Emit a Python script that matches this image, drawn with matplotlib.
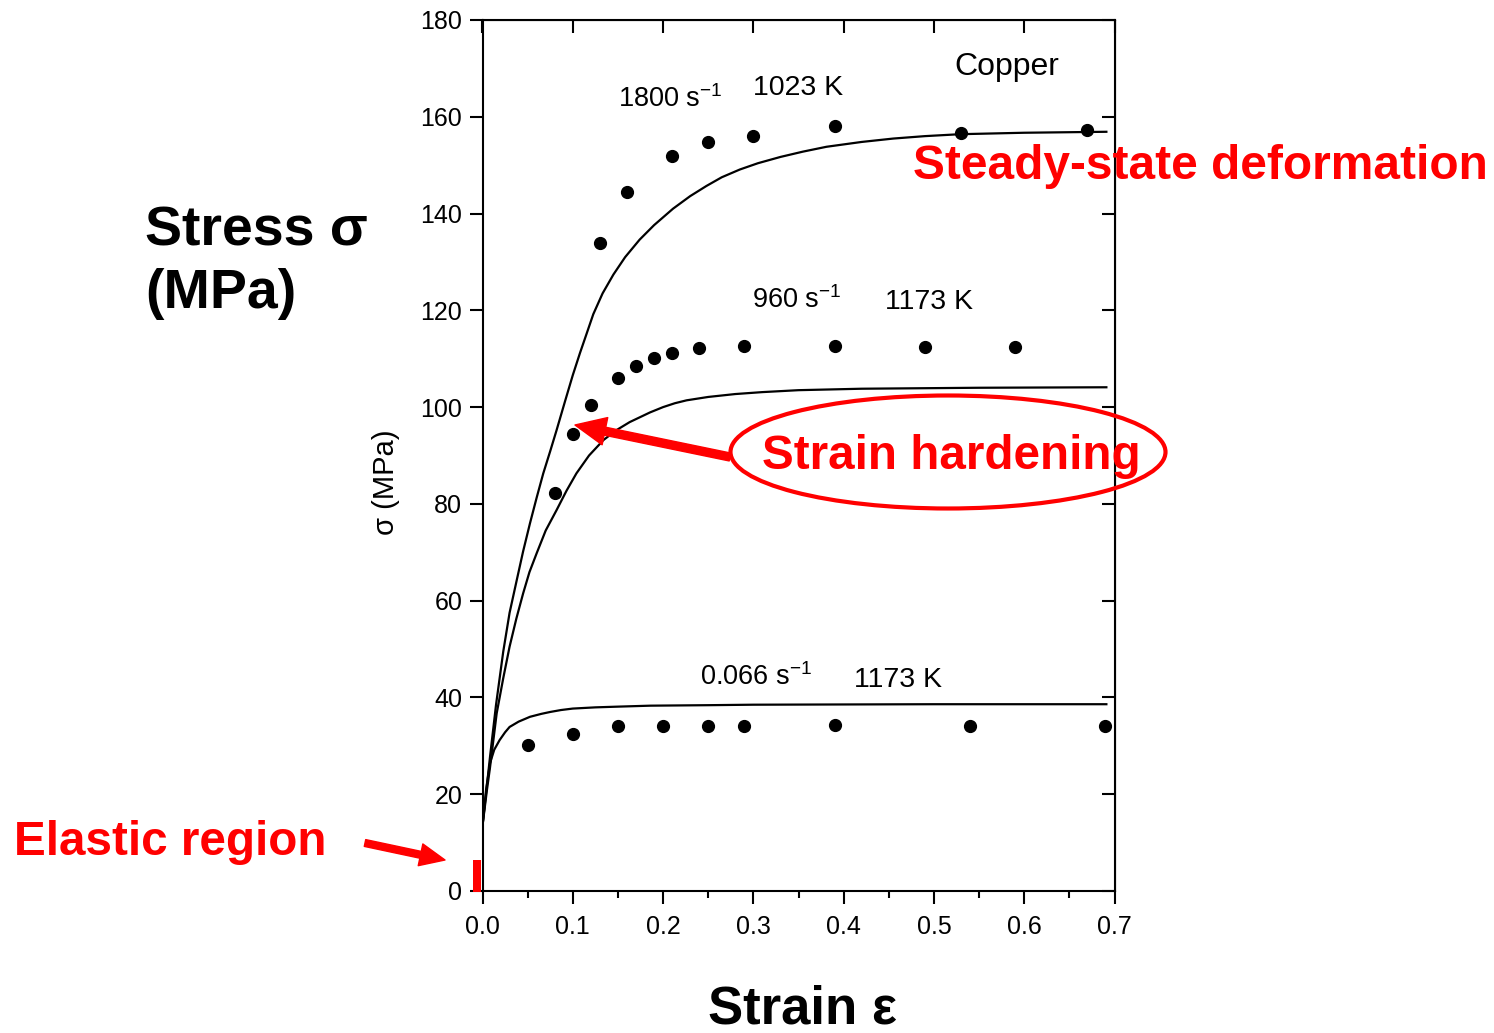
import numpy as np
import matplotlib
matplotlib.use('Agg')
import matplotlib.pyplot as plt
from matplotlib.patches import Ellipse, Rectangle, FancyArrowPatch, ArrowStyle

plt.rcParams['font.family'] = ['Liberation Sans', 'DejaVu Sans']
plt.rcParams['mathtext.fontset'] = 'custom'
plt.rcParams['mathtext.rm'] = 'Liberation Sans'
plt.rcParams['mathtext.it'] = 'Liberation Sans'

# model curves
fit1800_x = [0.0, 0.005, 0.0083, 0.015, 0.023, 0.030, 0.038, 0.045, 0.0526, 0.060,
             0.0673, 0.075, 0.082, 0.0914, 0.100, 0.108, 0.115, 0.1227, 0.133, 0.145,
             0.158, 0.174, 0.190, 0.211, 0.230, 0.248, 0.265, 0.285, 0.305, 0.330,
             0.355, 0.381, 0.420, 0.455, 0.490, 0.529, 0.600, 0.691]
fit1800_y = [13.5, 22.0, 27.7, 38.5, 49.5, 57.5, 64.3, 70.2, 76.0, 81.3,
             86.3, 90.9, 95.2, 101.2, 106.6, 111.2, 115.0, 119.2, 123.5, 127.4,
             131.0, 134.6, 137.6, 141.0, 143.6, 145.7, 147.5, 149.1, 150.4, 151.7,
             152.8, 153.8, 154.8, 155.5, 156.0, 156.4, 156.7, 156.9]

fit960_x = [0.0, 0.005, 0.0083, 0.0157, 0.023, 0.030, 0.0375, 0.045, 0.052, 0.060,
            0.070, 0.082, 0.093, 0.104, 0.118, 0.134, 0.148, 0.163, 0.1855, 0.200,
            0.213, 0.226, 0.250, 0.280, 0.310, 0.350, 0.420, 0.550, 0.691]
fit960_y = [13.5, 21.0, 25.5, 36.7, 44.0, 50.5, 56.3, 61.5, 65.9, 69.8,
            74.5, 78.7, 82.7, 86.3, 90.0, 93.2, 95.2, 96.9, 98.9, 100.0,
            100.8, 101.4, 102.1, 102.7, 103.1, 103.5, 103.8, 104.0, 104.1]

fit066_x = [0.0, 0.004, 0.0083, 0.013, 0.019, 0.025, 0.030, 0.040, 0.0526, 0.065,
            0.075, 0.087, 0.100, 0.125, 0.150, 0.186, 0.250, 0.300, 0.500, 0.691]
fit066_y = [13.5, 21.0, 26.4, 29.2, 31.2, 32.8, 33.9, 35.0, 36.0, 36.6,
            37.0, 37.4, 37.7, 37.95, 38.1, 38.3, 38.4, 38.5, 38.6, 38.6]

# measured points
s1800_x = [0.13, 0.16, 0.21, 0.25, 0.30, 0.39, 0.53, 0.67]
s1800_y = [134.0, 144.4, 151.8, 154.7, 156.1, 158.1, 156.7, 157.2]
s960_x = [0.08, 0.10, 0.12, 0.15, 0.17, 0.19, 0.21, 0.24, 0.29, 0.39, 0.49, 0.59]
s960_y = [82.2, 94.5, 100.5, 106.0, 108.4, 110.2, 111.2, 112.2, 112.7, 112.7, 112.4, 112.4]
s066_x = [0.05, 0.10, 0.15, 0.20, 0.25, 0.29, 0.39, 0.54, 0.69]
s066_y = [30.1, 32.5, 34.1, 34.1, 34.1, 34.2, 34.3, 34.0, 34.1]

xticks = [0.0, 0.1, 0.2, 0.3, 0.4, 0.5, 0.6, 0.7]
yticks = [0, 20, 40, 60, 80, 100, 120, 140, 160, 180]

W, H = 1494, 1033
fig = plt.figure(figsize=(W / 100, H / 100), dpi=100)

def fx(px):
    return px / W

def fy(py):
    return 1 - py / H

ax = fig.add_axes([fx(482.5), fy(891), 632 / W, 871 / H])

for xs, ys in [(fit1800_x, fit1800_y), (fit960_x, fit960_y), (fit066_x, fit066_y)]:
    ax.plot(xs, ys, color='black', lw=1.6, solid_joinstyle='round')
for xs, ys in [(s1800_x, s1800_y), (s960_x, s960_y), (s066_x, s066_y)]:
    ax.plot(xs, ys, 'o', color='black', ms=8.5, clip_on=False)

ax.set_xlim(0, 0.7)
ax.set_ylim(0, 180)
ax.set_xticks(xticks)
ax.set_xticklabels(['%.1f' % t for t in xticks])
ax.set_yticks(yticks)
ax.set_xticks(np.arange(0.05, 0.7, 0.1), minor=True)
for sp in ax.spines.values():
    sp.set_linewidth(1.5)
ax.tick_params(axis='both', which='major', direction='out', length=9.5, width=1.5,
               labelsize=18)
ax.tick_params(axis='y', pad=5)
ax.tick_params(axis='x', pad=8)
ax.tick_params(axis='x', which='minor', direction='out', length=5, width=1.5)

top = ax.secondary_xaxis('top')
top.set_xticks(xticks)
top.tick_params(direction='in', length=9.5, width=1.5, labeltop=False)
right = ax.secondary_yaxis('right')
right.set_yticks(yticks)
right.tick_params(direction='in', length=9.5, width=1.5, labelright=False)

ax.text(-0.153, 0.4696, 'σ (MPa)', rotation=90, ha='center', va='center',
        fontsize=21, transform=ax.transAxes)

ax.text(0.150, 162.0, r'1800 s$^{\mathregular{-1}}$', fontsize=19.5)
ax.text(0.2996, 164.5, '1023 K', fontsize=20.5)
ax.text(0.523, 168.6, 'Copper', fontsize=23)
ax.text(0.298, 120.4, r'960 s$^{\mathregular{-1}}$', fontsize=19.5)
ax.text(0.446, 120.2, '1173 K', fontsize=20.5)
ax.text(0.241, 42.6, r'0.066 s$^{\mathregular{-1}}$', fontsize=19.5)
ax.text(0.411, 42.1, '1173 K', fontsize=20.5)

# slide annotations
fig.text(fx(145), fy(245), 'Stress σ', fontsize=40, fontweight='bold', ha='left', va='baseline')
fig.text(fx(145), fy(308), '(MPa)', fontsize=40, fontweight='bold', ha='left', va='baseline')
fig.text(fx(802), fy(1024), 'Strain ε', fontsize=38, fontweight='bold', ha='center', va='baseline')

red = '#ff0000'
fig.text(fx(913), fy(179), 'Steady-state deformation', fontsize=34.5, fontweight='bold',
         color=red, ha='left', va='baseline')
fig.text(fx(762), fy(469), 'Strain hardening', fontsize=34.3, fontweight='bold',
         color=red, ha='left', va='baseline')
fig.text(fx(14), fy(855), 'Elastic region', fontsize=34.3, fontweight='bold',
         color=red, ha='left', va='baseline')

fig.add_artist(Ellipse((fx(948), fy(452)), 435 / W, 113 / H, transform=fig.transFigure,
                       fill=False, edgecolor=red, lw=3))
fig.add_artist(FancyArrowPatch((fx(730), fy(457)), (fx(575), fy(425)), transform=fig.transFigure,
                               arrowstyle=ArrowStyle('simple', head_length=1.1, head_width=1.0,
                                                     tail_width=0.29),
                               mutation_scale=20, color=red, shrinkA=0, shrinkB=0))
fig.add_artist(FancyArrowPatch((fx(365), fy(843)), (fx(445), fy(860)), transform=fig.transFigure,
                               arrowstyle=ArrowStyle('simple', head_length=0.9, head_width=0.8,
                                                     tail_width=0.25),
                               mutation_scale=20, color=red, shrinkA=0, shrinkB=0))
fig.add_artist(Rectangle((fx(473), fy(892)), 8 / W, 32 / H, transform=fig.transFigure,
                         color=red, lw=0))

fig.savefig('out.png', dpi=100)
